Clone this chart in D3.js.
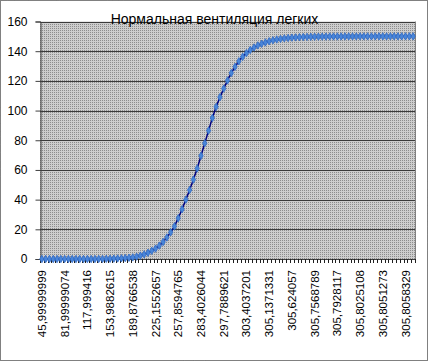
<!DOCTYPE html>
<html>
<head>
<meta charset="utf-8">
<script src="https://cdn.jsdelivr.net/npm/d3@7/dist/d3.min.js"></script>
<style>
  html, body { margin: 0; padding: 0; background: #fff; }
  svg { display: block; }
  text { font-family: Arial, "Liberation Sans", sans-serif; fill: #000; }
</style>
</head>
<body>
<svg id="chart" width="429" height="362"></svg>
<script>
// ---- data ----
const title = "Нормальная вентиляция легких";
const xTickLabels = [
  "45,99999999", "81,99999074", "117,999416", "153,9882615", "189,8766538",
  "225,1552657", "257,8594765", "283,4026044", "297,7889621", "303,4037201",
  "305,1371331", "305,624057", "305,7568789", "305,7928117", "305,8025108",
  "305,8051273", "305,8058329"
];
const labelEvery = 6;
const values = [
  0.00001, 0.00002, 0.00004, 0.00008, 0.00015, 0.00025, 0.0004, 0.0007, 0.0012, 0.002,
  0.003, 0.004, 0.005, 0.01, 0.02, 0.04, 0.075, 0.13, 0.2, 0.27,
  0.37, 0.49, 0.65, 0.85, 1.1, 1.6, 2.3, 3.1, 4.2, 5.5,
  7, 9, 11.5, 14.5, 18, 22, 27.5, 33.5, 40, 46.5,
  53.5, 61, 69.5, 78, 86.5, 95, 102.5, 109, 114.8, 120.3,
  125.3, 129.5, 133.2, 136.2, 138.7, 140.8, 142.5, 143.9, 145.0, 145.9,
  146.7, 147.35, 147.9, 148.3, 148.65, 148.9, 149.12, 149.3, 149.44, 149.55,
  149.64, 149.71, 149.77, 149.81, 149.85, 149.88, 149.9, 149.92, 149.94, 149.95,
  149.96, 149.97, 149.97, 149.98, 149.98, 149.985, 149.99, 149.99, 149.99, 149.995,
  149.995, 149.997, 149.997, 149.998, 149.998, 149.999, 149.999, 149.999, 150
];
const yTicks = [0, 20, 40, 60, 80, 100, 120, 140, 160];

// ---- layout ----
const svg = d3.select("#chart");
const L = 40, R = 415, T = 21.5, B = 259;

const x = d3.scaleBand().domain(values.map((d, i) => i)).range([L, R]).padding(0);
const y = d3.scaleLinear().domain([0, 160]).range([B, T]);

// outer dotted frame
svg.append("rect").attr("x", 0.5).attr("y", 0.5).attr("width", 427).attr("height", 360)
  .attr("fill", "#fff").attr("stroke", "#000").attr("stroke-width", 1)
  .attr("stroke-dasharray", "1,1");

// hatch pattern
const defs = svg.append("defs");
const pat = defs.append("pattern").attr("id", "hatch").attr("patternUnits", "userSpaceOnUse")
  .attr("width", 2).attr("height", 2);
pat.append("rect").attr("width", 2).attr("height", 2).attr("fill", "#cdcdcd");
pat.append("rect").attr("x", 0).attr("y", 0).attr("width", 1).attr("height", 1).attr("fill", "#8c8c8c");

svg.append("rect").attr("x", L).attr("y", T).attr("width", R - L).attr("height", B - T)
  .attr("fill", "url(#hatch)");

// gridlines
svg.append("g").selectAll("line").data(yTicks.filter(d => d > 0)).join("line")
  .attr("x1", L).attr("x2", R)
  .attr("y1", d => Math.round(y(d)) + 0.5).attr("y2", d => Math.round(y(d)) + 0.5)
  .attr("stroke", "#3a3a3a").attr("stroke-width", 1);

// plot border (right)
svg.append("line").attr("x1", R + 0.5).attr("x2", R + 0.5).attr("y1", T).attr("y2", B)
  .attr("stroke", "#808080");

// y axis
const yAxis = d3.axisLeft(y).tickValues(yTicks).tickSize(5).tickPadding(8).tickFormat(d3.format("d"));
const gy = svg.append("g").attr("transform", `translate(${L + 0.5},0)`).call(yAxis);
gy.select(".domain").attr("stroke", "#404040");
gy.selectAll(".tick line").attr("stroke", "#404040");
gy.selectAll("text").style("font-size", "12px").attr("fill", "#000");

// x axis: ticks at category boundaries
const gx = svg.append("g");
gx.append("line").attr("x1", L).attr("x2", R + 1).attr("y1", B + 0.5).attr("y2", B + 0.5)
  .attr("stroke", "#404040");
gx.selectAll("line.tk").data(values.map((d, i) => i).concat([values.length])).join("line")
  .attr("class", "tk")
  .attr("x1", i => Math.round(i < values.length ? x(i) : R) + 0.5)
  .attr("x2", i => Math.round(i < values.length ? x(i) : R) + 0.5)
  .attr("y1", B).attr("y2", B + 4)
  .attr("stroke", "#202020");

gx.selectAll("text").data(xTickLabels).join("text")
  .attr("transform", (d, k) => {
    const cx = x(k * labelEvery) + x.bandwidth() / 2;
    return `translate(${cx},270) rotate(-90)`;
  })
  .attr("text-anchor", "end")
  .attr("dy", "0.35em")
  .style("font-size", "11.5px")
  .text(d => d);

// line
const line = d3.line().x((d, i) => x(i) + x.bandwidth() / 2).y(d => y(d));
svg.append("path").datum(values).attr("d", line)
  .attr("fill", "none").attr("stroke", "#000080").attr("stroke-width", 1.5);

// markers (diamonds)
const sym = d3.symbol().type(d3.symbolDiamond).size(16);
svg.append("g").selectAll("path").data(values).join("path")
  .attr("transform", (d, i) => `translate(${x(i) + x.bandwidth() / 2},${y(d)})`)
  .attr("d", sym)
  .attr("fill", "#4a86d8").attr("stroke", "#2f6ac8").attr("stroke-width", 0.8);

// title
svg.append("text").attr("x", 214.5).attr("y", 23.5).attr("text-anchor", "middle")
  .style("font-size", "14px").text(title);
</script>
</body>
</html>
